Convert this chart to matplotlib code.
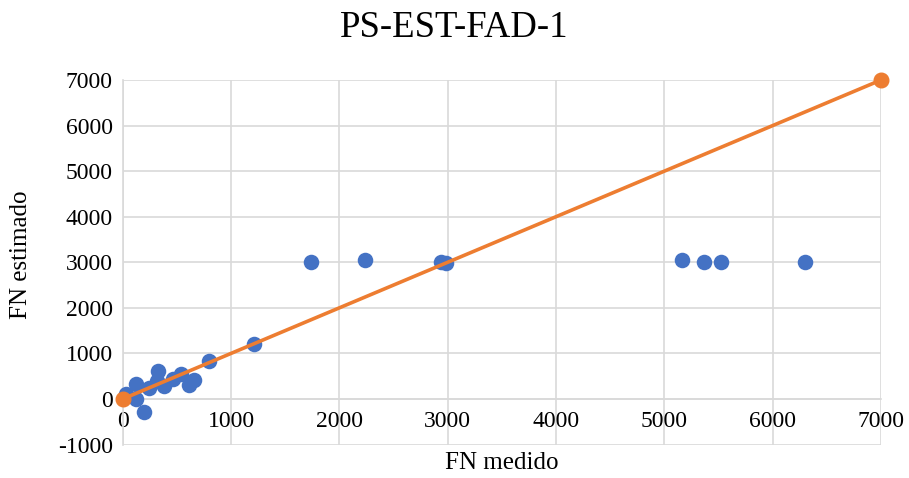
import matplotlib
matplotlib.use("Agg")
import matplotlib.pyplot as plt

# Measured vs. estimated FN values
fn_medido = [28, 120, 120, 195, 240, 320, 330, 380, 460, 535, 610, 655, 795,
             1210, 1740, 2240, 2940, 2980, 5165, 5370, 5525, 6300]
fn_estimado = [110, 330, 0, -280, 240, 400, 615, 285, 440, 550, 300, 420, 830,
               1210, 3000, 3045, 3010, 2990, 3060, 3005, 3005, 3010]

# 1:1 reference line
ref_x = [0, 7000]
ref_y = [0, 7000]

x_ticks = [0, 1000, 2000, 3000, 4000, 5000, 6000, 7000]
y_ticks = [-1000, 0, 1000, 2000, 3000, 4000, 5000, 6000, 7000]

title = "PS-EST-FAD-1"
x_label = "FN medido"
y_label = "FN estimado"

plt.rcParams["font.family"] = ["Liberation Serif", "DejaVu Serif"]
plt.rcParams["axes.unicode_minus"] = False

fig = plt.figure(figsize=(9.09, 4.78), dpi=100)
ax = fig.add_axes([0.1350, 0.0700, 0.8342, 0.7626])

blue = "#4472C4"
orange = "#ED7D31"
grid = "#D9D9D9"

ax.scatter(fn_medido, fn_estimado, s=125, color=blue, linewidths=0, zorder=3)
ax.plot(ref_x, ref_y, color=orange, linewidth=2.6, marker="o", markersize=10.5,
        zorder=4, solid_capstyle="round")

ax.set_xlim(0, 7000)
ax.set_ylim(-1000, 7000)
ax.set_xticks(x_ticks)
ax.set_yticks(y_ticks)
ax.grid(True, color=grid, linewidth=1.2)
ax.set_axisbelow(True)

for side in ("top", "right"):
    ax.spines[side].set_visible(False)
ax.spines["left"].set_color(grid)
ax.spines["left"].set_linewidth(1.2)
ax.spines["bottom"].set_position(("data", 0))
ax.spines["bottom"].set_color(grid)
ax.spines["bottom"].set_linewidth(1.2)

ax.tick_params(axis="both", length=0, labelsize=17, colors="black")
ax.tick_params(axis="x", pad=9)
ax.tick_params(axis="y", pad=7)
for c in ax.collections:
    c.set_clip_on(False)
for l in ax.lines:
    l.set_clip_on(False)

fig.suptitle(title, fontsize=26.5, x=0.5, y=0.941, va="center")
ax.set_xlabel(x_label, fontsize=18)
ax.set_ylabel(y_label, fontsize=18)
ax.xaxis.set_label_coords(0.5, -0.02)
ax.yaxis.set_label_coords(-0.12, 0.52)

fig.savefig("out.png", dpi=100)
